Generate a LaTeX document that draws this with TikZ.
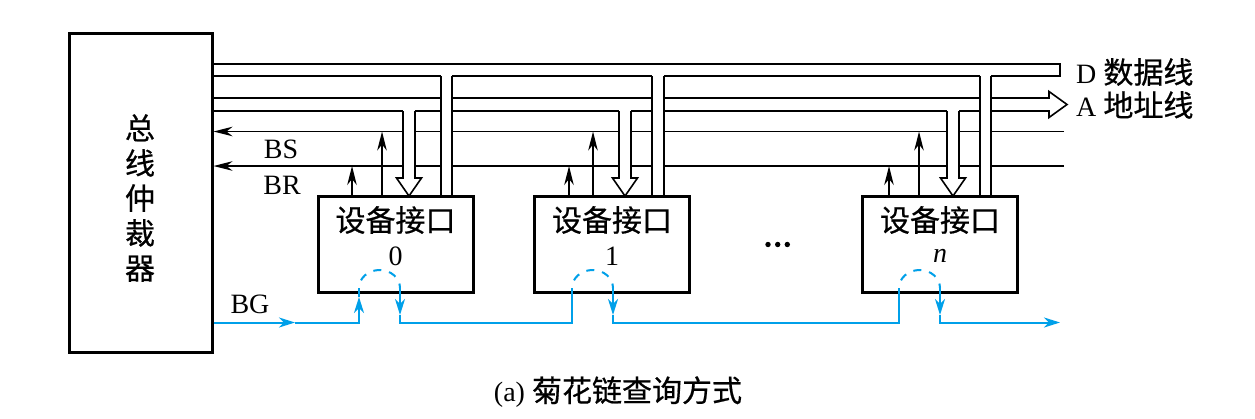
\documentclass[tikz,border=0pt]{standalone}
\usepackage{fontspec}
\setmainfont{Liberation Serif}
\newfontfamily\cjk{Noto Sans CJK SC}[FakeBold=0.6]
\usetikzlibrary{arrows.meta,calc}
\definecolor{bgcyan}{RGB}{0,160,233}
\newcommand{\zhtext}[1]{{\cjk\fontsize{30}{35}\selectfont #1}}
\begin{document}
\begin{tikzpicture}[x=1pt,y=-1pt,
  busline/.style={line width=1.6pt},
  sigline/.style={line width=1.5pt,-{Stealth[length=19pt,width=9.5pt,inset=6pt]}},
  bgline/.style={line width=2pt,draw=bgcyan},
  bgtip/.style={-{Stealth[length=16pt,width=10pt,inset=5pt]}},
  arcdash/.style={dash pattern=on 8pt off 8pt,dash phase=8pt},
  devbox/.style={draw,line width=3pt,fill=white,minimum width=155pt,minimum height=96pt,inner sep=0pt},
  arbbox/.style={draw,line width=3pt,minimum width=143pt,minimum height=319pt,inner sep=0pt},
  lat/.style={font=\fontsize{28}{34}\selectfont,inner sep=0pt},
  zh/.style={font=\cjk\fontsize{30}{35}\selectfont,inner sep=0pt},
]
\fill[white] (0,0) rectangle (1255,418);
\useasboundingbox (0,0) rectangle (1255,418);

% arbiter
\node[arbbox] (arb) at (140.5,192.5) {};
\node[zh,align=center] (arbtxt) at (140,198) {总\\线\\仲\\裁\\器};

% bus end points
\coordinate (Dt) at (1060,64);
\coordinate (Db) at (1060,76);
\coordinate (At) at (1049,98);
\coordinate (Ab) at (1049,111);
\coordinate (BSe) at (1064,131.5);
\coordinate (BRe) at (1064,166);

\draw[busline] (arb.east |- Dt) -- (Dt) -- (Db) -- (arb.east |- Db);
\draw[busline] (arb.east |- At) -- (At) -- (1049,91.5) -- (1067,104.5) -- (1049,117.5) -- (Ab) -- (arb.east |- Ab);
\draw[sigline] (BSe) -- (arb.east |- BSe);
\draw[sigline] (BRe) -- (arb.east |- BRe);

% devices
\foreach \n/\cx/\br/\bs/\al/\ar/\dl/\dr/\lab in {0/395.5/352/382/403/415/441/452/0, 1/612/569/593/619/631/652/664/1, 2/940/889/919/947/959/980/991/{\itshape n}} {
  \fill[white] (\al,109.5) rectangle (\ar,180);
  \draw[busline,fill=white] (\al,111) -- (\al,178) -- ({\al-6.5},178) -- ({(\al+\ar)/2},196) -- ({\ar+6.5},178) -- (\ar,178) -- (\ar,111);
  \fill[white] (\dl,75) rectangle (\dr,196);
  \draw[busline] (\dl,76) -- (\dl,196) (\dr,76) -- (\dr,196);
  \node[devbox] (d\n) at (\cx,244) {};
  \coordinate (bs\n) at (\bs,131.5);
  \coordinate (br\n) at (\br,166);
  \draw[sigline] (d\n.north -| bs\n) -- (bs\n);
  \draw[sigline] (d\n.north -| br\n) -- (br\n);
  \node[zh] (t\n) at (\cx,220) {设备接口};
  \node[lat] (n\n) at (\cx,256) {\lab};
}

% ellipsis
\fill (768,244.5) circle (2.7);
\fill (777.7,244.5) circle (2.7);
\fill (787.3,244.5) circle (2.7);

% BG daisy chain
\coordinate (g0l) at (359,322.5); \coordinate (g0r) at (400,322.5);
\coordinate (g1l) at (572,322.5); \coordinate (g1r) at (613,322.5);
\coordinate (g2l) at (899,322.5); \coordinate (g2r) at (940,322.5);
\coordinate (bgmid) at (295,322.5);
\coordinate (bgend) at (1060,322.5);

\draw[bgline,bgtip] (arb.east |- bgmid) -- (bgmid);
\draw[bgline,bgtip] (bgmid) -- (g0l) -- ($(g0l)+(0,-25.5)$);
\draw[bgline] ($(g0l)+(0,-25.5)$) -- ($(g0l)+(0,-34.5)$);
\foreach \i in {0,1,2} {
  \draw[bgline,arcdash] ($(g\i l)+(0,-34.5)$) arc[start angle=180,end angle=360,x radius=20.5,y radius=18];
  \draw[bgline,bgtip] ($(g\i r)+(0,-34.5)$) -- ($(g\i r)+(0,-7.5)$);
}
\draw[bgline] ($(g0r)+(0,-7.5)$) -- (g0r) -- (g1l) -- ($(g1l)+(0,-34.5)$);
\draw[bgline] ($(g1r)+(0,-7.5)$) -- (g1r) -- (g2l) -- ($(g2l)+(0,-34.5)$);
\draw[bgline,bgtip] ($(g2r)+(0,-7.5)$) -- (g2r) -- (bgend);

% labels
\node[lat] (lbs) at (281,149) {BS};
\node[lat] (lbr) at (282,185) {BR};
\node[lat] (lbg) at (250,304) {BG};
\node[lat,anchor=west] (ld) at (1076,72) {D \zhtext{数据线}};
\node[lat,anchor=west] (la) at (1076,105) {A \zhtext{地址线}};
\node[lat] (cap) at (618,392) {(a) \zhtext{菊花链查询方式}};
\end{tikzpicture}
\end{document}
